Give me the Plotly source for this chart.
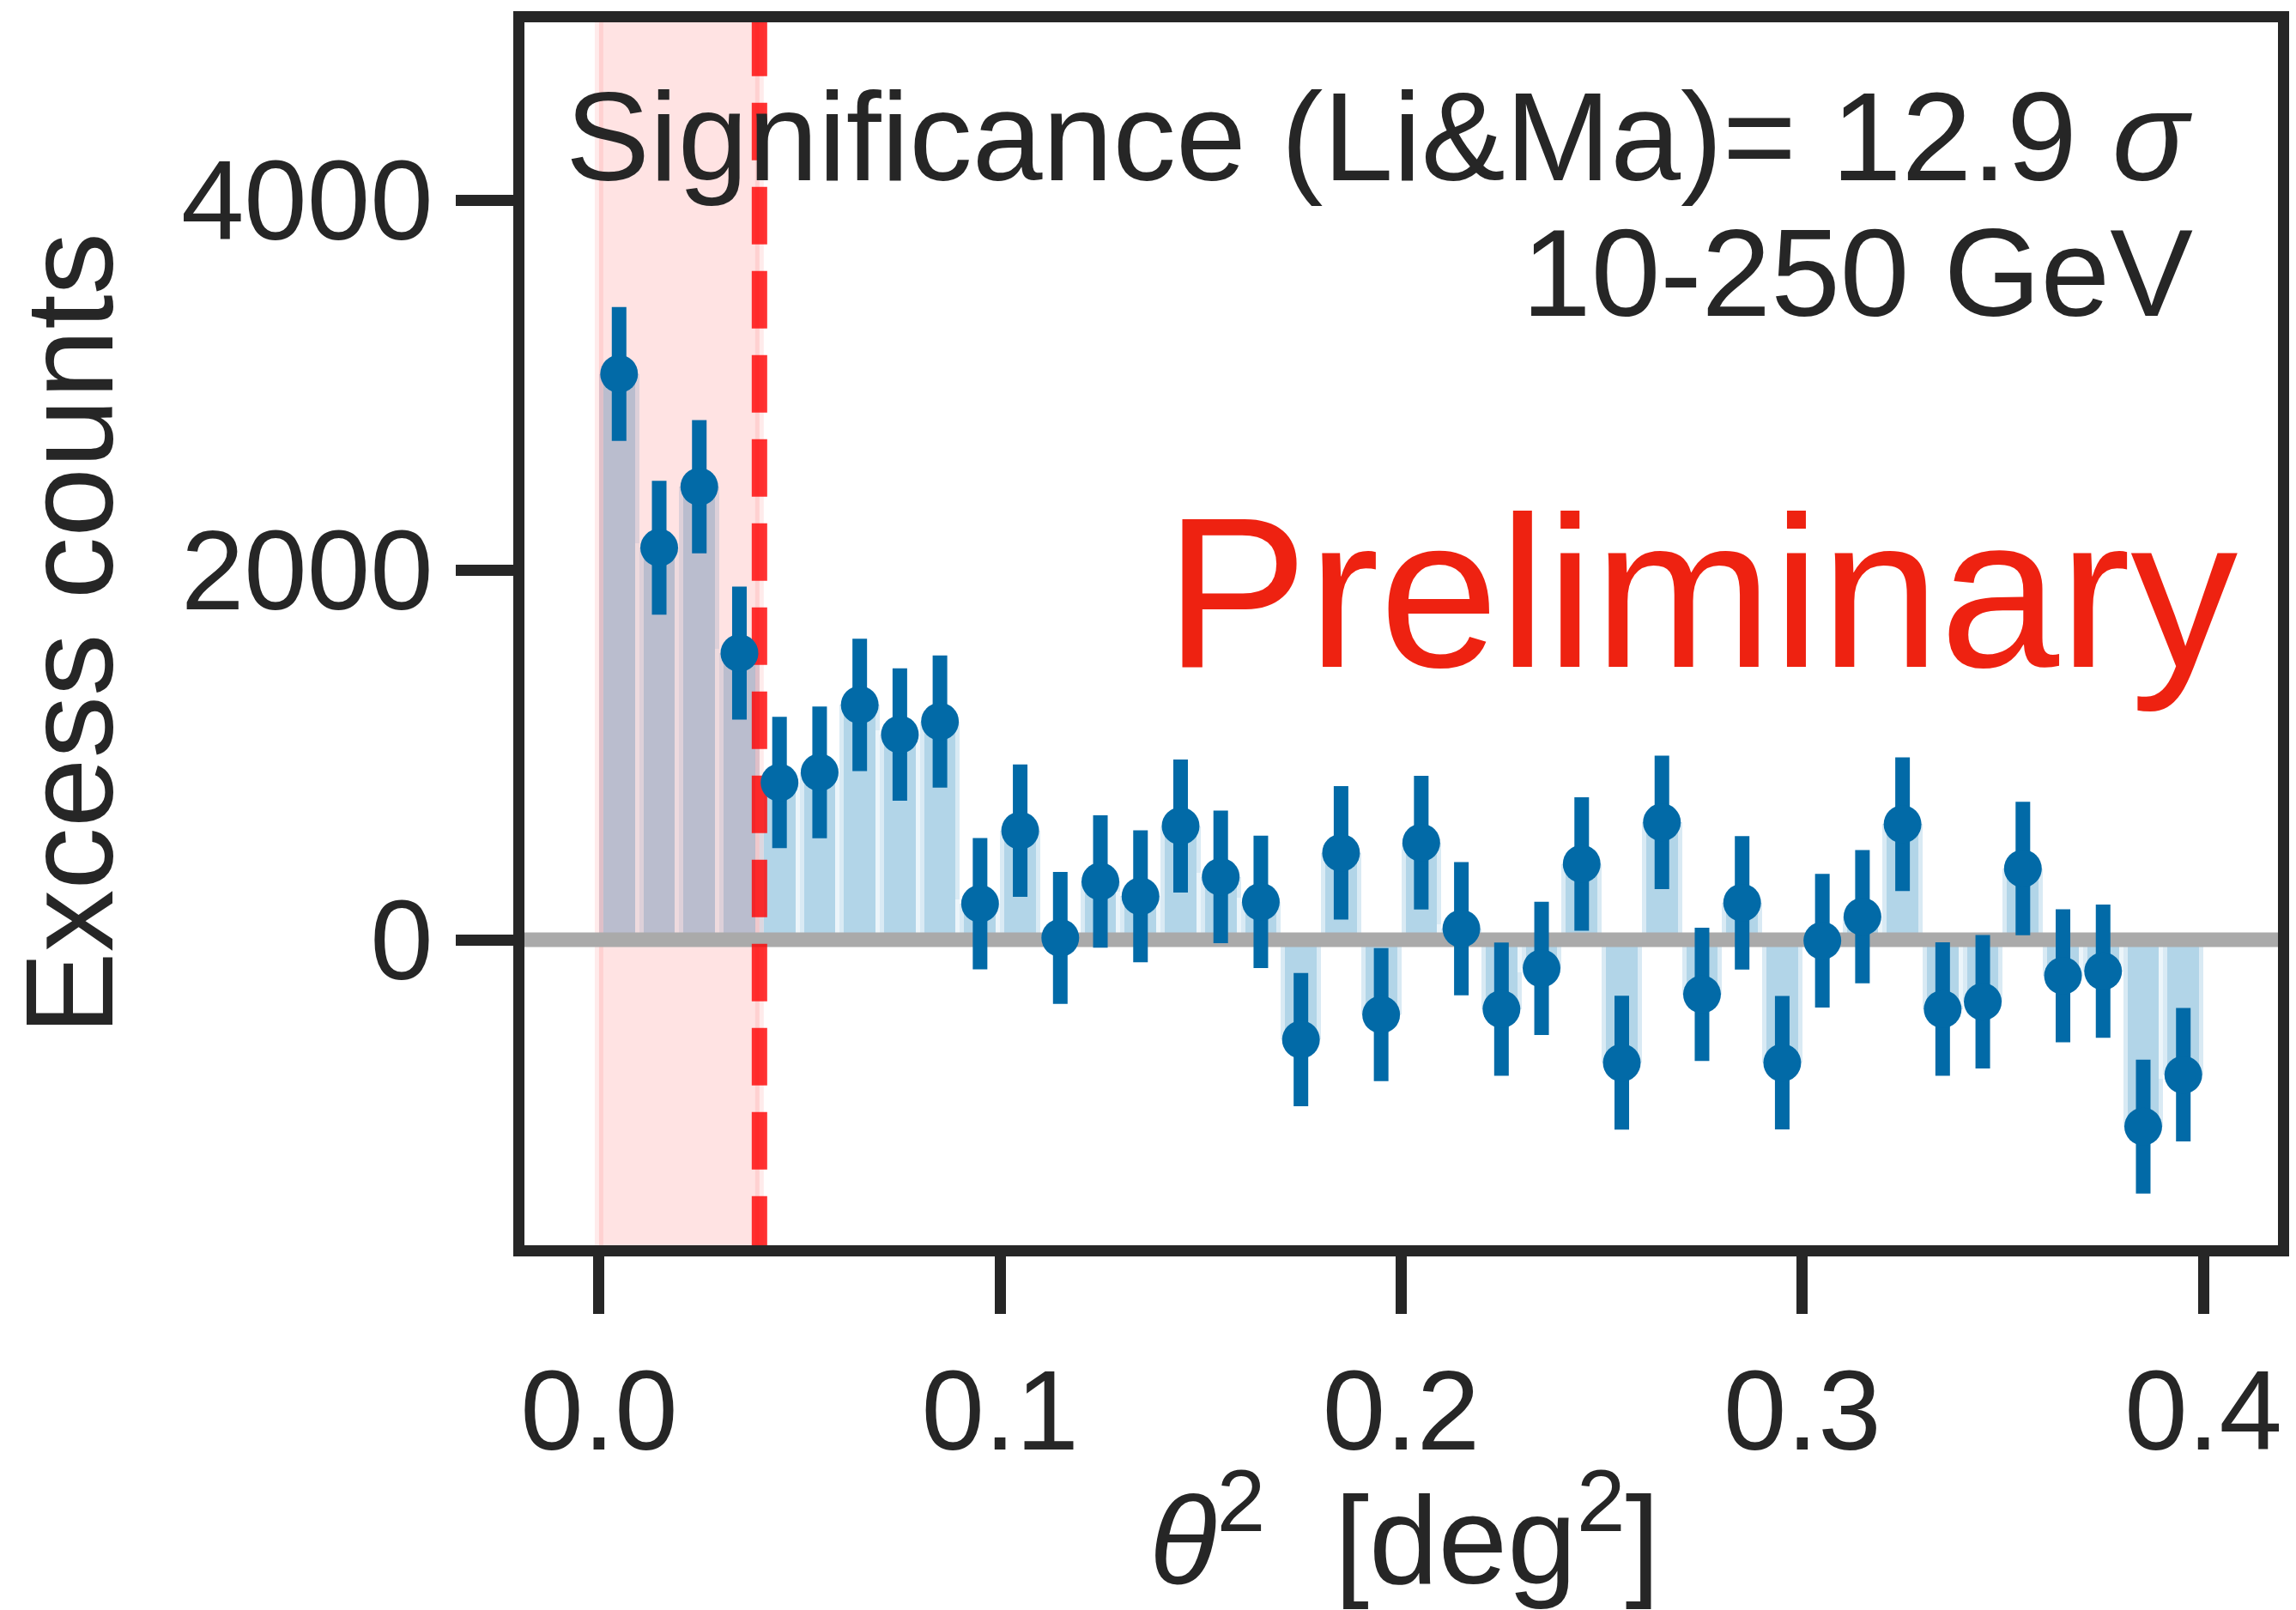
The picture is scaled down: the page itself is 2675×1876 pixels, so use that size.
import plotly.graph_objects as go

# Theta^2 histogram of excess counts, 0.01 deg^2 bins
bin_centers = [0.005, 0.015, 0.025, 0.035, 0.045, 0.055, 0.065, 0.075, 0.085, 0.095,
               0.105, 0.115, 0.125, 0.135, 0.145, 0.155, 0.165, 0.175, 0.185, 0.195,
               0.205, 0.215, 0.225, 0.235, 0.245, 0.255, 0.265, 0.275, 0.285, 0.295,
               0.305, 0.315, 0.325, 0.335, 0.345, 0.355, 0.365, 0.375, 0.385, 0.395]
bin_width = 0.01
excess = [3060, 2120, 2450, 1550, 850, 905, 1270, 1110, 1180, 195,
          590, 10, 315, 235, 615, 340, 205, -540, 470, -405,
          525, 60, -375, -155, 410, -665, 635, -295, 200, -665,
          -5, 125, 625, -375, -335, 385, -195, -170, -1010, -730]
excess_err = [362, 362, 360, 360, 355, 356, 358, 358, 357, 355,
              358, 357, 358, 357, 360, 359, 358, 360, 361, 360,
              361, 360, 360, 360, 361, 362, 361, 360, 361, 361,
              361, 360, 361, 361, 361, 361, 360, 360, 362, 361]

theta2_cut = 0.04
x_range = [-0.0186, 0.4186]
y_range = [-1652, 4961]

x_ticks = [0.0, 0.1, 0.2, 0.3, 0.4]
x_ticklabels = ["0.0", "0.1", "0.2", "0.3", "0.4"]
y_ticks = [0, 2000, 4000]
y_ticklabels = ["0", "2000", "4000"]

BLUE = "#026aa7"
INK = "#262626"
FONT = "Liberation Sans, Arial, Helvetica, sans-serif"

fig = go.Figure()

# histogram bars
fig.add_trace(go.Bar(
    x=bin_centers, y=excess, width=bin_width,
    marker=dict(color="rgba(1,115,178,0.3)",
                line=dict(color="rgba(255,255,255,0.5)", width=10)),
    hoverinfo="skip", showlegend=False,
))

# signal region (theta^2 < cut), drawn over the bars
fig.add_trace(go.Scatter(
    x=[0, theta2_cut, theta2_cut, 0, 0],
    y=[y_range[0] - 500, y_range[0] - 500, y_range[1] + 500, y_range[1] + 500, y_range[0] - 500],
    mode="lines", fill="toself", fillcolor="rgba(255,0,0,0.11)",
    line=dict(color="rgba(255,0,0,0.08)", width=10),
    hoverinfo="skip", showlegend=False,
))

# zero reference line
fig.add_trace(go.Scatter(
    x=[-1, 1], y=[0, 0], mode="lines",
    line=dict(color="#aaaaaa", width=17),
    hoverinfo="skip", showlegend=False,
))

# theta^2 cut
fig.add_trace(go.Scatter(
    x=[theta2_cut, theta2_cut], y=[y_range[0] - 500, y_range[1] + 500], mode="lines",
    line=dict(color="rgba(255,0,0,0.8)", width=18, dash="67px,31px"),
    hoverinfo="skip", showlegend=False,
))

# excess counts with errors
fig.add_trace(go.Scatter(
    x=bin_centers, y=excess, mode="markers",
    marker=dict(color=BLUE, size=44, line=dict(width=0)),
    error_y=dict(type="data", array=excess_err, visible=True,
                 color=BLUE, thickness=17, width=0),
    hoverinfo="skip", showlegend=False,
))

fig.add_annotation(
    text="Significance (Li&amp;Ma)= 12.9 <i>σ</i>",
    xref="paper", yref="paper", x=0.9525, y=0.907,
    xanchor="right", yanchor="middle", showarrow=False,
    font=dict(family=FONT, size=147, color=INK),
)
fig.add_annotation(
    text="10-250 GeV",
    xref="paper", yref="paper", x=0.9525, y=0.795,
    xanchor="right", yanchor="middle", showarrow=False,
    font=dict(family=FONT, size=145, color=INK),
)
fig.add_annotation(
    text="Preliminary",
    xref="paper", yref="paper", x=0.978, y=0.5337,
    xanchor="right", yanchor="middle", showarrow=False,
    font=dict(family=FONT, size=250, color="#ee2211"),
)

# x-axis label
fig.add_annotation(
    text="<i>θ</i><sup>2</sup>&nbsp; [deg<sup>2</sup>]",
    xref="paper", yref="paper", x=0.502, y=-0.2337,
    xanchor="center", yanchor="middle", showarrow=False,
    font=dict(family=FONT, size=145, color=INK),
)

axis_common = dict(
    showgrid=False, zeroline=False,
    showline=True, linecolor=INK, linewidth=13, mirror=True,
    ticks="outside", ticklen=67, tickwidth=13, tickcolor=INK,
    tickfont=dict(family=FONT, size=132, color=INK),
)

fig.update_xaxes(
    range=x_range, tickvals=x_ticks, ticktext=x_ticklabels,
    **axis_common,
)
fig.update_yaxes(
    range=y_range, tickvals=y_ticks, ticktext=y_ticklabels,
    title=dict(text="Excess counts",
               font=dict(family=FONT, size=145, color=INK), standoff=40),
    **axis_common,
)

fig.update_layout(
    width=2675, height=1876,
    margin=dict(l=611, r=21, t=26, b=425, autoexpand=False),
    paper_bgcolor="white", plot_bgcolor="white",
    bargap=0, showlegend=False,
    font=dict(family=FONT, color=INK),
)

fig.write_html("out.html")
